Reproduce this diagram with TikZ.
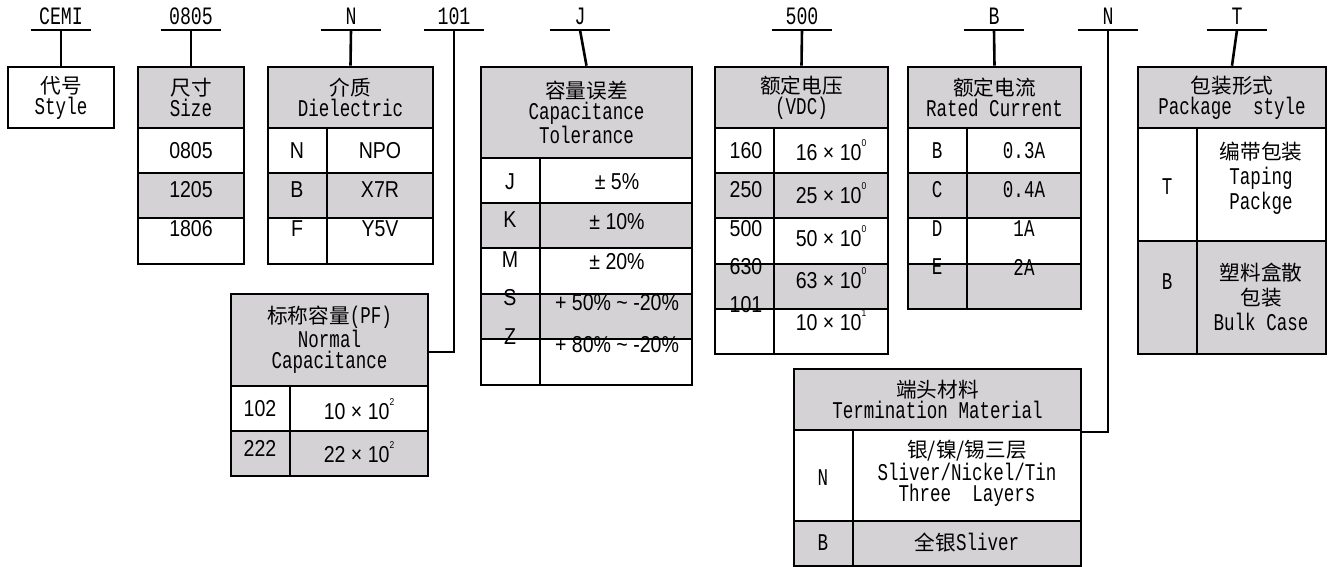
\documentclass[tikz,border=0pt]{standalone}
\usepackage{fontspec}
\setmainfont{Liberation Sans}[FakeStretch=0.85]
\newfontfamily\monof{Liberation Mono}[FakeStretch=0.73]
\newfontfamily\cjk{Noto Sans CJK SC}[Scale=0.86]
\usetikzlibrary{fit}
\definecolor{cellgray}{RGB}{212,210,212}
\newcommand{\tenp}[2]{#1 × 10\raisebox{1.2ex}{\fontsize{5}{5}\selectfont #2}}

\begin{document}
\begin{tikzpicture}[x=0.5pt, y=-0.5pt,
  rule/.style={line width=1.3pt},
  code/.style={font=\monof\fontsize{12.5}{12}\selectfont, inner xsep=0pt, inner ysep=2.5pt, anchor=south, minimum width=30pt},
  head/.style={draw, line width=1.3pt, fill=cellgray, inner sep=0pt},
  htext/.style={inner sep=0pt, align=center, font=\monof\fontsize{12}{10.5}\selectfont},
  cell/.style={font=\fontsize{11.5}{12}\selectfont, inner sep=0pt},
  mcell/.style={font=\monof\fontsize{12}{12.5}\selectfont, inner sep=0pt, align=center}]
\useasboundingbox (0,0) rectangle (1329,567);

% Code letters over the tables
\foreach \name/\x/\txt in {cemi/61/CEMI, csize/191/0805, cdiel/351/N, ccap/454/101, ctol/580/J,
    cvolt/802/500, ccurr/994/B, cterm/1108/N, cpack/1237/T}{
  \node[code] (\name) at (\x,30) {\txt};
  \draw[rule] (\name.south west) -- (\name.south east);
}

% Style
\node[head, fill=white, fit={(8,67) (114,128)}] (style) {};
\node[htext] (stylet) at (style.center) {{\cjk 代号}\\Style};
\draw[rule] (cemi.south) -- (style.north);

% Size
\fill[cellgray] (138,173) rectangle (244,218);
\draw[rule] (138,128) rectangle (244,264);
\foreach \y in {173,218} \draw[rule] (138,\y) -- (244,\y);
\node[head, fit={(138,67) (244,128)}] (size) {};
\node[htext] (sizet) at (size.center) {{\cjk 尺寸}\\Size};
\foreach \t/\y in {0805/151, 1205/190, 1806/229} \node[cell] (s\t) at (191,\y) {\t};
\draw[rule] (csize.south) -- (size.north);

% Dielectric
\fill[cellgray] (268,173) rectangle (433,218);
\draw[rule] (268,128) rectangle (433,264) (327,128) -- (327,264);
\foreach \y in {173,218} \draw[rule] (268,\y) -- (433,\y);
\node[head, fit={(268,67) (433,128)}] (diel) {};
\node[htext] (dielt) at (diel.center) {{\cjk 介质}\\Dielectric};
\foreach \k/\v/\y in {N/NPO/151, B/X7R/190, F/Y5V/229}{
  \node[cell] (d\k) at (297,\y) {\k};
  \node[cell] (dv\k) at (380,\y) {\v};
}
\draw[rule] (cdiel.south) -- (diel.north);

% Normal capacitance
\fill[cellgray] (231,431) rectangle (428,476);
\draw[rule] (231,386) rectangle (428,476) (290,386) -- (290,476) (231,431) -- (428,431);
\node[head, fit={(231,294) (428,386)}] (cap) {};
\node[htext] (capt) at (cap.center) {{\cjk 标称容量}(PF)\\Normal\\Capacitance};
\node[cell] (p102) at (260,409) {102};
\node[cell] (pv102) at (359,409) {\tenp{10}{2}};
\node[cell] (p222) at (260,448) {222};
\node[cell] (pv222) at (359,452) {\tenp{22}{2}};
\coordinate (capin) at (428,352);
\draw[rule] (ccap.south) |- (capin);

% Capacitance tolerance
\fill[cellgray] (481,203) rectangle (692,248) (481,294) rectangle (692,339);
\draw[rule] (481,158) rectangle (692,385) (540,158) -- (540,385);
\foreach \y in {203,248,294,339} \draw[rule] (481,\y) -- (692,\y);
\node[head, fit={(481,67) (692,158)}] (tol) {};
\node[htext] (tolt) at (tol.center) {{\cjk 容量误差}\\Capacitance\\Tolerance};
\foreach \k/\v/\a/\b in {J/{± 5\%}/182/182, K/{± 10\%}/220/222, M/{± 20\%}/260/262,
    S/{+ 50\% \textasciitilde{} -20\%}/298/303, Z/{+ 80\% \textasciitilde{} -20\%}/337/345}{
  \node[cell] (t\k) at (510,\a) {\k};
  \node[cell] (tv\k) at (617,\b) {\v};
}
\draw[rule] (ctol.south) -- (tol.north);

% Rated voltage
\fill[cellgray] (715,173) rectangle (888,218) (715,264) rectangle (888,309);
\draw[rule] (715,128) rectangle (888,354) (774,128) -- (774,354);
\foreach \y in {173,218,264,309} \draw[rule] (715,\y) -- (888,\y);
\node[head, fit={(715,67) (888,128)}] (volt) {};
\node[htext] (voltt) at (volt.center) {{\cjk 额定电压}\\(VDC)};
\foreach \k/\a/\m/\e/\b in {160/151/16/0/150, 250/190/25/0/193, 500/229/50/0/236,
    630/267/63/0/278, 101/305/10/1/320}{
  \node[cell] (u\k) at (746,\a) {\k};
  \node[cell] (uv\k) at (831,\b) {\tenp{\m}{\e}};
}
\draw[rule] (cvolt.south) -- (volt.north);

% Rated current
\fill[cellgray] (908,173) rectangle (1081,218) (908,264) rectangle (1081,309);
\draw[rule] (908,128) rectangle (1081,309) (967,128) -- (967,309);
\foreach \y in {173,218,264} \draw[rule] (908,\y) -- (1081,\y);
\node[head, fit={(908,67) (1081,128)}] (curr) {};
\node[htext] (currt) at (curr.center) {{\cjk 额定电流}\\Rated Current};
\foreach \k/\v/\y in {B/0.3A/151, C/0.4A/190, D/1A/229, E/2A/267}{
  \node[mcell] (i\k) at (937,\y) {\k};
  \node[mcell] (iv\k) at (1024,\y) {\v};
}
\draw[rule] (ccurr.south) -- (curr.north);

% Termination material
\fill[cellgray] (794,521) rectangle (1081,566);
\draw[rule] (794,430) rectangle (1081,566) (853,430) -- (853,566) (794,521) -- (1081,521);
\node[head, fit={(794,369) (1081,430)}] (term) {};
\node[htext] (termt) at (term.center) {{\cjk 端头材料}\\Termination Material};
\node[mcell] (mN) at (823,478) {N};
\node[htext] (mvN) at (967,473) {{\cjk 银/镍/锡三层}\\Sliver/Nickel/Tin\\Three~~Layers};
\node[mcell] (mB) at (823,543) {B};
\node[mcell] (mvB) at (967,543) {{\cjk 全银}Sliver};
\coordinate (termin) at (1081,432);
\draw[rule] (cterm.south) |- (termin);

% Package style
\fill[cellgray] (1138,241) rectangle (1326,354);
\draw[rule] (1138,128) rectangle (1326,354) (1197,128) -- (1197,354) (1138,241) -- (1326,241);
\node[head, fit={(1138,67) (1326,128)}] (pack) {};
\node[htext] (packt) at (pack.center) {{\cjk 包装形式}\\Package~~style};
\node[mcell] (kT) at (1167,187) {T};
\node[mcell] (kvT) at (1261,178) {{\cjk 编带包装}\\Taping\\Packge};
\node[mcell] (kB) at (1167,282) {B};
\node[mcell] (kvB) at (1261,297) {{\cjk 塑料盒散}\\{\cjk 包装}\\Bulk Case};
\draw[rule] (cpack.south) -- (pack.north);
\end{tikzpicture}
\end{document}
